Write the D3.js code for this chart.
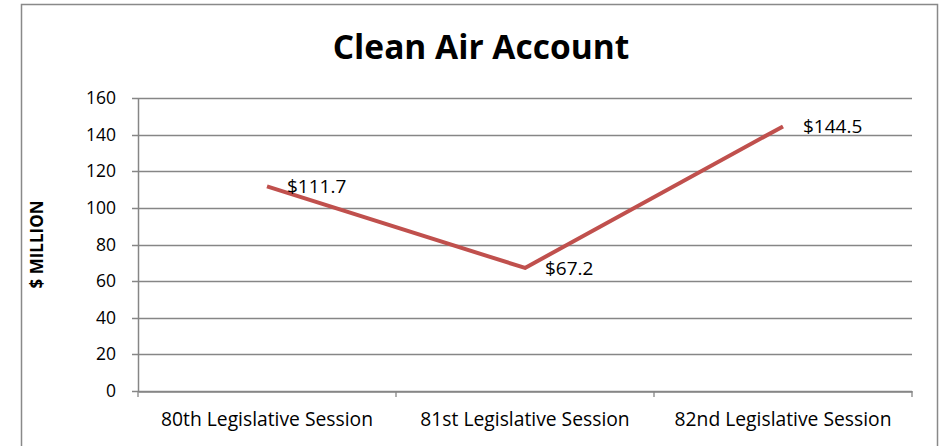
<!DOCTYPE html>
<html>
<head>
<meta charset="utf-8">
<script src="https://cdn.jsdelivr.net/npm/d3@7"></script>
<style>
  body { margin: 0; background: #fff; }
  text { font-family: "Open Sans", Lato, sans-serif; fill: #000; }
</style>
</head>
<body>
<div id="chart"></div>
<script>
const sessions = ["80th Legislative Session", "81st Legislative Session", "82nd Legislative Session"];
const amounts = [111.7, 67.2, 144.5];
const amountLabels = ["$111.7", "$67.2", "$144.5"];
const yTicks = [0, 20, 40, 60, 80, 100, 120, 140, 160];

const width = 941, height = 446;
const margin = {top: 98, right: 29, bottom: 55, left: 138};

const svg = d3.select("#chart")
    .append("svg")
    .attr("width", width)
    .attr("height", height);

// chart frame
svg.append("rect")
    .attr("x", 21.5)
    .attr("y", 4.5)
    .attr("width", 916)
    .attr("height", 460)
    .attr("fill", "none")
    .attr("stroke", "#898989")
    .attr("stroke-width", 1.5);

const xScale = d3.scaleBand()
    .domain(sessions)
    .range([margin.left, width - margin.right]);

const yScale = d3.scaleLinear()
    .domain([0, 160])
    .range([height - margin.bottom, margin.top]);

// gridlines
svg.append("g")
    .selectAll("line")
    .data(yTicks)
    .join("line")
    .attr("x1", margin.left - 6)
    .attr("x2", width - margin.right)
    .attr("y1", d => Math.round(yScale(d)) + 0.5)
    .attr("y2", d => Math.round(yScale(d)) + 0.5)
    .attr("stroke", "#868686")
    .attr("stroke-width", 1.3);

// y axis
const yAxis = svg.append("g")
    .attr("transform", `translate(${margin.left},0)`)
    .call(d3.axisLeft(yScale).tickValues(yTicks).tickSize(0).tickPadding(22));
yAxis.select(".domain").attr("stroke", "#868686").attr("stroke-width", 1.5);
yAxis.selectAll("text").attr("font-size", 17.5).attr("fill", "#000");

// x axis
const xAxis = svg.append("g")
    .attr("transform", `translate(0,${Math.round(yScale(0)) + 0.5})`)
    .call(d3.axisBottom(xScale).tickSize(0).tickPadding(21));
xAxis.select(".domain").attr("stroke", "#868686").attr("stroke-width", 1.5);
xAxis.selectAll("text").attr("font-size", 19.3).attr("fill", "#000");

// category separators
const edges = sessions.map(d => xScale(d)).concat([width - margin.right]);
svg.append("g")
    .selectAll("line")
    .data(edges)
    .join("line")
    .attr("x1", d => d)
    .attr("x2", d => d)
    .attr("y1", yScale(0))
    .attr("y2", yScale(0) + 6)
    .attr("stroke", "#868686")
    .attr("stroke-width", 1.3);

// line
const line = d3.line()
    .x((d, i) => xScale(sessions[i]) + xScale.bandwidth() / 2)
    .y(d => yScale(d));

svg.append("path")
    .datum(amounts)
    .attr("d", line)
    .attr("fill", "none")
    .attr("stroke", "#C0504D")
    .attr("stroke-width", 4)
    .attr("stroke-linejoin", "round");

// data labels
svg.append("g")
    .selectAll("text")
    .data(amounts)
    .join("text")
    .attr("x", (d, i) => xScale(sessions[i]) + xScale.bandwidth() / 2 + 20)
    .attr("y", d => yScale(d))
    .attr("dy", "0.36em")
    .attr("font-size", 19)
    .text((d, i) => amountLabels[i]);

// title
svg.append("text")
    .attr("x", 481)
    .attr("y", 59)
    .attr("text-anchor", "middle")
    .attr("font-size", 33.5)
    .attr("font-weight", "bold")
    .text("Clean Air Account");

// y axis label
svg.append("text")
    .attr("transform", `translate(43,${(yScale(0) + yScale(160)) / 2}) rotate(-90)`)
    .attr("text-anchor", "middle")
    .attr("font-size", 17)
    .attr("font-weight", "bold")
    .text("$ MILLION");
</script>
</body>
</html>
